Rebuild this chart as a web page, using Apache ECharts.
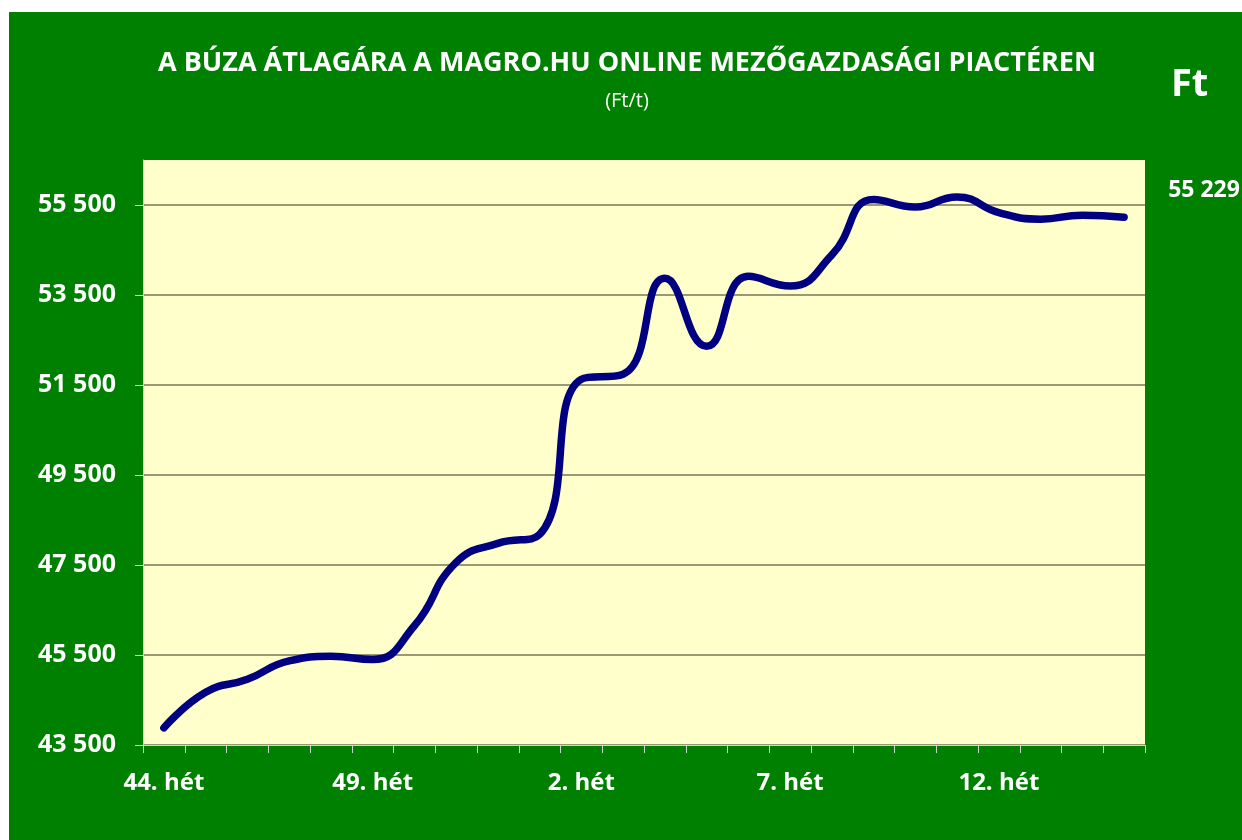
<!DOCTYPE html>
<html>
<head>
<meta charset="utf-8">
<script src="https://cdn.jsdelivr.net/npm/echarts@6/dist/echarts.min.js"></script>
<style>
  html, body { margin: 0; padding: 0; background: #ffffff; }
  #chart { position: absolute; left: 9px; top: 12px; width: 1233px; height: 828px; }
</style>
</head>
<body>
<div id="chart"></div>
<script>
// weeks 44-52 of the previous year, then 1-15
const weeks = ['44. hét', '45. hét', '46. hét', '47. hét', '48. hét', '49. hét', '50. hét', '51. hét', '52. hét',
  '1. hét', '2. hét', '3. hét', '4. hét', '5. hét', '6. hét', '7. hét', '8. hét', '9. hét', '10. hét',
  '11. hét', '12. hét', '13. hét', '14. hét', '15. hét'];
const prices = [43880, 44670, 44960, 45370, 45470, 45400, 46150, 47560, 47980, 48180, 51630, 51740,
  53870, 52360, 53915, 53700, 54390, 55620, 55455, 55680, 55330, 55185, 55275, 55229];
const yTicks = [43500, 45500, 47500, 49500, 51500, 53500, 55500];

const fmt = v => String(v).replace(/\B(?=(\d{3})+(?!\d))/g, ' ');
const font = '"Open Sans", "Liberation Sans", sans-serif';

let myChart = echarts.init(document.getElementById('chart'));
let option = {
  backgroundColor: '#008000',
  animation: false,
  title: {
    text: 'A BÚZA ÁTLAGÁRA A MAGRO.HU ONLINE MEZŐGAZDASÁGI PIACTÉREN',
    subtext: '(Ft/t)',
    left: 613,
    top: 33,
    textAlign: 'center',
    itemGap: 14,
    textStyle: { color: '#ffffff', fontFamily: font, fontWeight: 'bold', fontSize: 27 },
    subtextStyle: { color: '#ffffff', fontFamily: font, fontSize: 20 }
  },
  graphic: [
    {
      type: 'text',
      left: 1162,
      top: 54,
      style: { text: 'Ft', fill: '#ffffff', font: 'bold 38px ' + font }
    }
  ],
  grid: { left: 134, top: 148, right: 97, bottom: 95, backgroundColor: '#ffffcc', show: true, borderWidth: 0 },
  xAxis: {
    type: 'category',
    data: weeks,
    boundaryGap: true,
    axisLine: { lineStyle: { color: '#c8d8c8', width: 1 } },
    axisTick: { show: true, interval: 0, length: 8, lineStyle: { color: '#c8d8c8' } },
    axisLabel: { interval: 4, margin: 26, color: '#ffffff', fontFamily: font, fontWeight: 'bold', fontSize: 24 }
  },
  yAxis: {
    type: 'value',
    min: 43500,
    max: 56500,
    axisLine: { show: true, lineStyle: { color: '#c8d8c8', width: 1 } },
    axisTick: { show: true, length: 8, customValues: yTicks, lineStyle: { color: '#c8d8c8' } },
    axisLabel: {
      customValues: yTicks,
      margin: 27,
      color: '#ffffff', fontFamily: font, fontWeight: 'bold', fontSize: 25,
      formatter: v => fmt(v)
    },
    splitLine: { show: true, lineStyle: { color: '#77775a', width: 1.5 } }
  },
  series: [
    {
      type: 'line',
      data: prices,
      smooth: 0.5,
      symbol: 'none',
      lineStyle: { color: '#000080', width: 7.5, cap: 'round' },
      endLabel: {
        show: true,
        offset: [36, -27],
        color: '#ffffff',
        fontFamily: font,
        fontWeight: 'bold',
        fontSize: 23,
        formatter: p => fmt(p.value)
      }
    }
  ]
};
option && myChart.setOption(option);
</script>
</body>
</html>
